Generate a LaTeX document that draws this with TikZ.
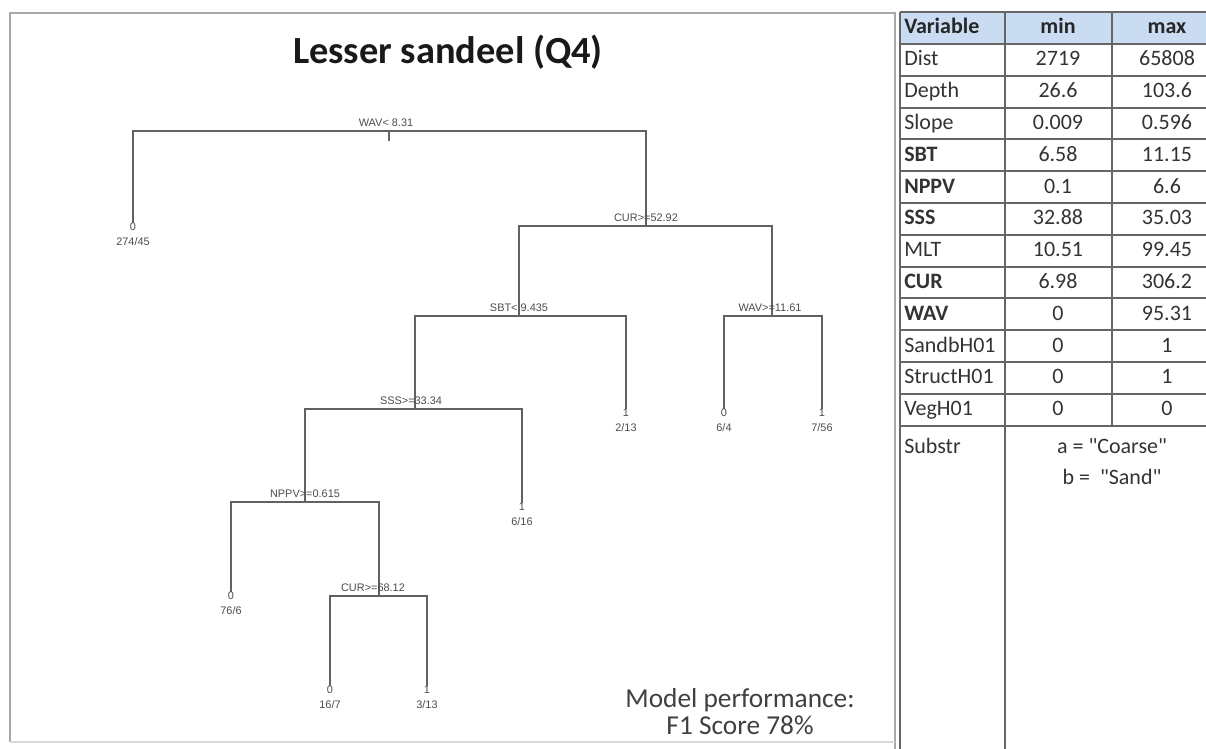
\documentclass[tikz,border=0pt]{standalone}
\usepackage{fontspec}
\usetikzlibrary{calc}
\setmainfont{Carlito}
\newfontfamily\plaincarlito{Carlito}
\newfontfamily\treefont{Liberation Sans}
\definecolor{hdrblue}{HTML}{C9DCF1}
\definecolor{gridgray}{HTML}{666666}
\definecolor{framegray}{HTML}{A8A8A8}
\definecolor{inkgray}{HTML}{333333}
\begin{document}
\begin{tikzpicture}[x=0.75pt,y=-0.75pt,
  treeline/.style={draw=black!62,line width=1.1pt},
  splitlbl/.style={font=\treefont\fontsize{8.2}{9}\selectfont,text=black!70,inner sep=0pt,anchor=base},
  leafmark/.style={font=\treefont\fontsize{8.2}{9}\selectfont,text=black!70,inner sep=0pt,anchor=north},
  countlbl/.style={font=\treefont\fontsize{8.2}{9}\selectfont,text=black!70,inner sep=0pt,anchor=north},
  tcell/.style={font=\fontsize{16.5}{19}\selectfont,text=inkgray,inner sep=0pt,anchor=base},
  tname/.style={tcell,anchor=base west},
  gridline/.style={draw=gridgray,line width=0.9pt}]
\useasboundingbox (0,0) rectangle (1206,749);
\clip (0,0) rectangle (1206,749);

% ---------- left panel ----------
\draw[framegray,line width=2.2pt] (10,742) -- (10,13) -- (895,13) -- (895,749);
\draw[black!15,line width=1pt] (10,742) -- (895,742);
\node[font=\bfseries\fontsize{28.8}{30}\selectfont,text=black!90] (title) at (448,52) {Lesser sandeel (Q4)};

% split points of the tree
\coordinate (root) at (389,131);
\coordinate (ncurA) at (646,226);
\coordinate (nsbt) at (519,316);
\coordinate (nwav) at (772,316);
\coordinate (nsss) at (415,409);
\coordinate (nnppv) at (305,502);
\coordinate (ncurB) at (379,596);
% leaf ends
\coordinate (lfA) at (133,223);
\coordinate (lfB) at (626,409);
\coordinate (lfC) at (724,409);
\coordinate (lfD) at (822,409);
\coordinate (lfE) at (522,503);
\coordinate (lfF) at (231,592);
\coordinate (lfG) at (330,686);
\coordinate (lfH) at (427,686);

% branches
\draw[treeline] (lfA) |- (root) -| (ncurA);
\draw[treeline] (nsbt) |- (ncurA) -| (nwav);
\draw[treeline] (nsss) |- (nsbt) -| (lfB);
\draw[treeline] (lfC) |- (nwav) -| (lfD);
\draw[treeline] (nnppv) |- (nsss) -| (lfE);
\draw[treeline] (lfF) |- (nnppv) -| (ncurB);
\draw[treeline] (lfG) |- (ncurB) -| (lfH);
\coordinate (roottick) at (389,141);
\draw[treeline] (root) -- (roottick);

% split labels
\node[splitlbl] (sroot) at ($(root)+(-3,-5)$) {WAV< 8.31};
\node[splitlbl] (scurA) at ($(ncurA)+(0,-5)$) {CUR>=52.92};
\node[splitlbl] (ssbt) at ($(nsbt)+(0,-5)$) {SBT< 9.435};
\node[splitlbl] (swav) at ($(nwav)+(-2,-5)$) {WAV>=11.61};
\node[splitlbl] (ssss) at ($(nsss)+(-4,-5)$) {SSS>=33.34};
\node[splitlbl] (snppv) at ($(nnppv)+(0,-5)$) {NPPV>=0.615};
\node[splitlbl] (scurB) at ($(ncurB)+(-6,-5)$) {CUR>=68.12};

% leaves: class and counts
\foreach \lf/\cls/\cnt in {lfA/0/274\slash45, lfB/1/2\slash13, lfC/0/6\slash4, lfD/1/7\slash56,
                           lfE/1/6\slash16, lfF/0/76\slash6, lfG/0/16\slash7, lfH/1/3\slash13}{
  \node[leafmark] (m\lf) at (\lf) {\cls};
  \node[countlbl] (c\lf) at ($(m\lf.south)+(0,6)$) {\cnt};
}

% performance note
\node[font=\fontsize{20.5}{20.3}\selectfont,text=black!75,align=center] (perf) at (740,712)
  {Model performance:\\F1 Score 78\%};

% ---------- variable table ----------
\fill[hdrblue] (900,12) rectangle (1222,44);
\foreach \yy in {12,44,76,108,139,171,203,235,267,298,330,362,394,426}{
  \draw[gridline] (900,\yy) -- (1222,\yy);
}
\draw[gridline] (900,12) -- (900,749);
\draw[gridline] (1005,12) -- (1005,749);
\draw[gridline] (1112,12) -- (1112,426);

\node[tname,font=\bfseries\fontsize{16.5}{19}\selectfont,text=black!85] (hv) at (904,34) {Variable};
\node[tcell,font=\bfseries\fontsize{16.5}{19}\selectfont,text=black!85] (hmin) at (1058,34) {min};
\node[tcell,font=\bfseries\fontsize{16.5}{19}\selectfont,text=black!85] (hmax) at (1167,34) {max};

\foreach \nm/\lo/\hi/\wt [count=\i] in {
  Dist/2719/65808/\mdseries, Depth/26.6/103.6/\mdseries, Slope/0.009/0.596/\mdseries,
  SBT/6.58/11.15/\bfseries, NPPV/0.1/6.6/\bfseries, SSS/32.88/35.03/\bfseries,
  MLT/10.51/99.45/\mdseries, CUR/6.98/306.2/\bfseries, WAV/0/95.31/\bfseries,
  SandbH01/0/1/\mdseries, StructH01/0/1/\mdseries, VegH01/0/0/\mdseries}{
  \pgfmathsetmacro{\by}{34+31.8*\i}
  \node[tname] (r\i) at (904,\by) {\wt\nm};
  \node[tcell] (lo\i) at (1058,\by) {\lo};
  \node[tcell] (hi\i) at (1167,\by) {\hi};
}
\node[tname] (sub) at (904,453) {Substr};
\node[tcell] (suba) at (1112,453) {\plaincarlito a = "Coarse"};
\node[tcell] (subb) at (1112,484) {\plaincarlito b = \ "Sand"};
\end{tikzpicture}
\end{document}
